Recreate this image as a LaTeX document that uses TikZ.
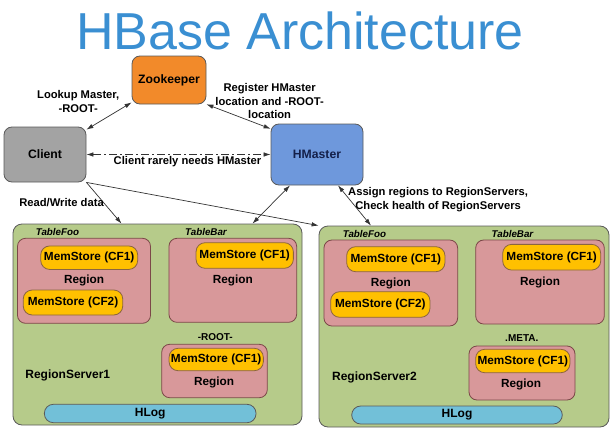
\documentclass[tikz,border=0pt]{standalone}
\usepackage{fontspec}
\setmainfont{Liberation Sans}
\usetikzlibrary{arrows.meta}
\definecolor{titleblue}{HTML}{3A8FD2}
\definecolor{zkorange}{HTML}{F28A2A}
\definecolor{clientgray}{HTML}{A3A3A3}
\definecolor{masterblue}{HTML}{6E98DC}
\definecolor{masternavy}{HTML}{14204A}
\definecolor{servergreen}{HTML}{B6CB8A}
\definecolor{regionpink}{HTML}{D8989A}
\definecolor{storegold}{HTML}{FFC000}
\definecolor{logcyan}{HTML}{72C0D8}
\definecolor{edgegray}{HTML}{5A5A5A}
\begin{document}
\begin{tikzpicture}[x=1pt, y=-1pt, line width=0.8pt,
  box/.style={draw=edgegray, rounded corners=8pt, inner sep=0pt, font=\bfseries\fontsize{12.2}{14}\selectfont},
  server/.style={draw=edgegray, fill=servergreen, rounded corners=9pt, inner sep=0pt},
  region/.style={draw=edgegray!80!red, fill=regionpink, rounded corners=8pt, inner sep=0pt, font=\bfseries\fontsize{11.8}{14}\selectfont},
  rtext/.style={inner sep=0pt, font=\bfseries\fontsize{11.8}{14}\selectfont},
  store/.style={draw=edgegray!70!orange, fill=storegold, rounded corners=9pt, inner sep=0pt, font=\bfseries\fontsize{11.8}{14}\selectfont},
  hlog/.style={draw=edgegray, fill=logcyan, rounded corners=9pt, inner sep=0pt, font=\bfseries\fontsize{12}{14}\selectfont},
  tname/.style={inner sep=0pt, font=\bfseries\itshape\fontsize{9.8}{12}\selectfont},
  catalog/.style={inner sep=0pt, font=\bfseries\fontsize{10}{12}\selectfont},
  sname/.style={inner sep=0pt, anchor=west, font=\bfseries\fontsize{12}{14}\selectfont},
  lbl/.style={align=center, font=\bfseries\fontsize{11.2}{13.3}\selectfont},
  link/.style={draw=black!80, line width=0.7pt, {Latex[length=7pt,width=4.5pt]}-{Latex[length=7pt,width=4.5pt]}},
  feed/.style={draw=black!80, line width=0.7pt, -{Latex[length=7pt,width=4.5pt]}},
  ]
\useasboundingbox (0,0) rectangle (616,431);
\node[anchor=base, text=titleblue, font=\fontsize{52}{60}\selectfont] (title) at (300,49) {HBase Architecture};
% top row
\node[box, fill=zkorange, minimum width=74pt, minimum height=48pt] (Z) at (169,80) {Zookeeper};
\node[box, fill=clientgray, minimum width=82pt, minimum height=55pt] (C) at (45,154.5) {Client};
\node[box, fill=masterblue, text=masternavy, minimum width=92pt, minimum height=61pt] (H) at (317,154.5) {HMaster};
% RegionServer1
\node[server, minimum width=289pt, minimum height=201pt] (S_1) at (157.5,324.5) {};
\node[tname] (T_1_1) at (57.5,232.3) {TableFoo};
\node[region, minimum width=133pt, minimum height=85pt] (R_1_1) at (84,280.8) {Region};
\node[store, minimum width=97pt, minimum height=23.5pt] (M_1_1) at (89.2,257.7) {MemStore (CF1)};
\node[store, minimum width=99.5pt, minimum height=25pt] (M_1_2) at (73,302.5) {MemStore (CF2)};
\node[tname] (T_1_2) at (206,232.3) {TableBar};
\node[region, minimum width=127.7pt, minimum height=84pt] (R_1_2) at (232.8,280.3) {Region};
\node[store, minimum width=97.3pt, minimum height=25.6pt] (M_1_3) at (244.7,255.5) {MemStore (CF1)};
\node[catalog] (T_1_3) at (215.3,336.7) {-ROOT-};
\node[region, minimum width=105.6pt, minimum height=53.4pt] (R_1_3) at (214.5,371) {};
\node[store, minimum width=94.3pt, minimum height=22.4pt] (M_1_4) at (216.2,359.5) {MemStore (CF1)};
\node[rtext] (G_1_3) at (214,382.3) {Region};
\node[sname] (N_1) at (25,375.7) {RegionServer1};
\node[hlog, minimum width=211.7pt, minimum height=18.4pt] (L_1) at (150.2,413.5) {HLog};
% RegionServer2
\node[server, minimum width=290pt, minimum height=201pt] (S_2) at (464,326.5) {};
\node[tname] (T_2_1) at (364.5,234) {TableFoo};
\node[region, minimum width=133.7pt, minimum height=86pt] (R_2_1) at (390.8,283) {Region};
\node[store, minimum width=98.3pt, minimum height=25pt] (M_2_1) at (395.8,259.2) {MemStore (CF1)};
\node[store, minimum width=99.3pt, minimum height=25.6pt] (M_2_2) at (380.3,304.5) {MemStore (CF2)};
\node[tname] (T_2_2) at (512.5,234) {TableBar};
\node[region, minimum width=128.6pt, minimum height=84pt] (R_2_2) at (540,282) {Region};
\node[store, minimum width=98pt, minimum height=25.7pt] (M_2_3) at (551.7,257.2) {MemStore (CF1)};
\node[catalog] (T_2_3) at (521.8,338.3) {.META.};
\node[region, minimum width=106pt, minimum height=54pt] (R_2_3) at (522,373) {};
\node[store, minimum width=94.3pt, minimum height=23.4pt] (M_2_4) at (522.8,361) {MemStore (CF1)};
\node[rtext] (G_2_3) at (521,384) {Region};
\node[sname] (N_2) at (331.7,377.3) {RegionServer2};
\node[hlog, minimum width=210.6pt, minimum height=18pt] (L_2) at (457,415) {HLog};
% connectors
\draw[link] (C.31) -- (Z.211) node[midway, above left, lbl, xshift=14pt] {Lookup Master,\\-ROOT-};
\draw[link] (Z.327) -- (H.151) node[midway, above right, lbl, xshift=-26.7pt, yshift=-5.7pt] {Register HMaster\\location and -ROOT-\\location};
\draw[link, dash pattern=on 8pt off 3pt on 2pt off 3pt] (C.east) -- (H.west) node[midway, below, lbl, xshift=9pt, yshift=1.5pt] {Client rarely needs HMaster};
\draw[feed] (C.south east) -- ([xshift=-36pt]S_1.north) node[midway, left, lbl, xshift=3.5pt] {Read/Write data};
\draw[feed] (C.south east) -- (S_2.north west);
\draw[link] ([xshift=-27pt]H.south) -- ([xshift=95pt]S_1.north);
\draw[link] ([xshift=21pt]H.south) -- ([xshift=-93pt]S_2.north) node[midway, right, lbl, xshift=-10pt, yshift=6pt] {Assign regions to RegionServers,\\Check health of RegionServers};
\end{tikzpicture}
\end{document}
